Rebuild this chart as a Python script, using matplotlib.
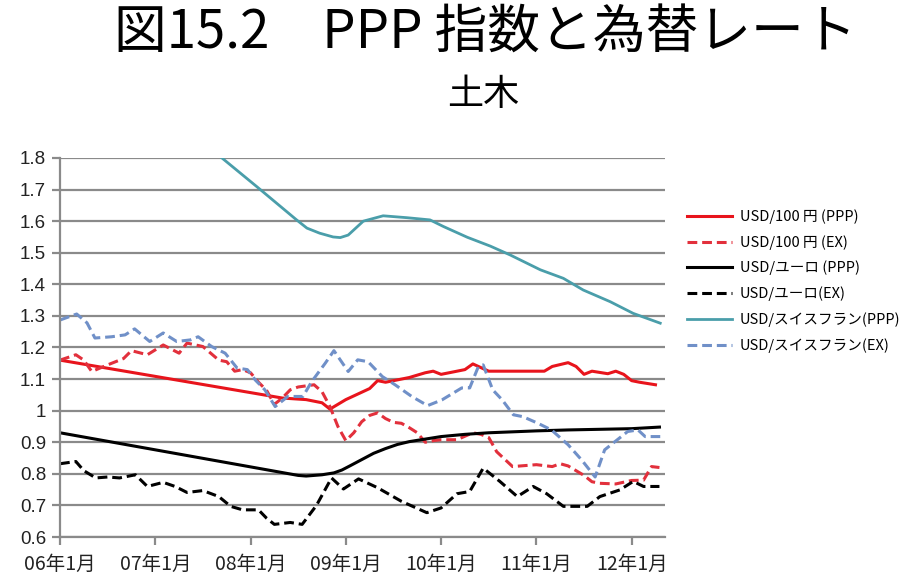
import matplotlib.pyplot as plt
from matplotlib.ticker import FixedLocator, FuncFormatter

plt.rcParams['font.family'] = ['Noto Sans CJK JP', 'DejaVu Sans']

# months counted from 2006-01
tick_months = [0, 12, 24, 36, 48, 60, 72]
tick_labels = ['06年1月', '07年1月', '08年1月', '09年1月', '10年1月', '11年1月', '12年1月']

jpy_ppp_m = [0, 28, 31, 33, 34, 36, 39, 40, 41, 42, 44, 46, 47, 48, 50, 51, 52, 54, 58, 61,
             62, 64, 65, 66, 67, 69, 70, 71, 72, 73, 75]
jpy_ppp_v = [1.16, 1.04, 1.035, 1.025, 1.005, 1.035, 1.07, 1.095, 1.09, 1.095, 1.105, 1.12, 1.125,
             1.115, 1.125, 1.13, 1.148, 1.125, 1.125, 1.125, 1.14, 1.152, 1.14, 1.115, 1.125,
             1.117, 1.125, 1.115, 1.095, 1.09, 1.082]

jpy_ex_m = [0, 2, 3, 4, 6, 8, 9, 11, 13, 15, 16, 18, 20, 21, 22, 23, 24, 25, 26, 27, 28, 29,
            30, 32, 33, 34, 35, 36, 37, 38, 39, 40, 41, 42, 43, 44, 45, 46, 47, 48, 50, 52, 53,
            54, 55, 57, 58, 60, 62, 63, 64, 65, 66, 67, 68, 70, 72, 73.5, 74.5, 75.5]
jpy_ex_v = [1.16, 1.177, 1.16, 1.124, 1.145, 1.165, 1.19, 1.177, 1.208, 1.182, 1.214, 1.203,
            1.16, 1.155, 1.125, 1.13, 1.12, 1.09, 1.065, 1.02, 1.04, 1.066, 1.075, 1.082, 1.06,
            1.013, 0.95, 0.905, 0.93, 0.965, 0.985, 0.993, 0.975, 0.963, 0.96, 0.946, 0.93, 0.9,
            0.905, 0.908, 0.908, 0.93, 0.925, 0.915, 0.87, 0.823, 0.825, 0.829, 0.823, 0.832,
            0.825, 0.81, 0.795, 0.775, 0.77, 0.768, 0.779, 0.78, 0.823, 0.82]

eur_ppp_m = [0, 30, 31, 33, 34.5, 35.5, 36.5, 38, 39.5, 41, 42.5, 44, 46, 48, 51, 54, 57, 60,
             64, 68, 72, 75.5]
eur_ppp_v = [0.93, 0.795, 0.793, 0.797, 0.803, 0.812, 0.825, 0.845, 0.865, 0.88, 0.893, 0.902,
             0.91, 0.918, 0.925, 0.93, 0.933, 0.936, 0.939, 0.941, 0.943, 0.948]

eur_ex_m = [0, 2, 3, 4.5, 6, 7.5, 9.5, 11, 13, 14.5, 16, 18, 20, 21.5, 23, 25, 26, 27, 29, 30.5,
            32.3, 34.2, 35.7, 37.6, 40, 43, 46.2, 48, 50, 51.6, 53.3, 55.4, 57.6, 59.6, 61.3,
            63.4, 66.4, 68, 70.5, 72.2, 73.5, 75.5]
eur_ex_v = [0.832, 0.839, 0.81, 0.787, 0.79, 0.787, 0.797, 0.76, 0.773, 0.76, 0.741, 0.747,
            0.728, 0.697, 0.686, 0.686, 0.66, 0.64, 0.646, 0.64, 0.70, 0.787, 0.752, 0.784, 0.756,
            0.713, 0.677, 0.692, 0.737, 0.744, 0.818, 0.776, 0.728, 0.76, 0.737, 0.697, 0.697,
            0.728, 0.749, 0.776, 0.76, 0.76]

chf_ppp_m = [0, 20.4, 24.8, 29.8, 31.1, 32.7, 34.4, 35.3, 36.3, 38.2, 40.7, 43.7, 46.6, 48.3,
             51.3, 54.2, 56.7, 60.5, 63.4, 65.9, 69.3, 72.2, 75.6]
chf_ppp_v = [2.22, 1.8, 1.709, 1.604, 1.578, 1.562, 1.55, 1.548, 1.556, 1.6, 1.617, 1.611, 1.604,
             1.583, 1.549, 1.521, 1.493, 1.446, 1.419, 1.382, 1.345, 1.308, 1.277]

chf_ex_m = [0, 2.1, 3.4, 4.4, 6.5, 8.2, 9.4, 11.3, 13, 14.7, 16.4, 17.4, 19.1, 20.8, 22.3, 23.6,
            24.6, 25.8, 27.1, 28.7, 30.6, 31.7, 33.4, 34.5, 36.3, 37.5, 38.8, 40.6, 42.2, 44.3,
            46.3, 48.1, 50.6, 51.6, 52.7, 53.3, 54.5, 55.7, 57.1, 58.3, 60.2, 61.9, 64, 65.7,
            67.4, 68.6, 69.9, 71.5, 72.8, 73.7, 75.6]
chf_ex_v = [1.287, 1.306, 1.278, 1.23, 1.234, 1.24, 1.259, 1.219, 1.246, 1.219, 1.224, 1.234,
            1.203, 1.182, 1.135, 1.13, 1.097, 1.066, 1.013, 1.045, 1.045, 1.092, 1.15, 1.19, 1.124,
            1.161, 1.155, 1.108, 1.082, 1.045, 1.016, 1.034, 1.072, 1.072, 1.14, 1.145, 1.066,
            1.034, 0.987, 0.981, 0.96, 0.939, 0.892, 0.844, 0.79, 0.876, 0.902, 0.934, 0.939,
            0.918, 0.918]

red = '#e8141c'
red_d = '#e2303c'
teal = '#4a9eaa'
blue_d = '#7090c8'

fig = plt.figure(figsize=(9.18, 5.79), dpi=100)
ax = fig.add_axes([60 / 918, 1 - 537 / 579, 605 / 918, 379 / 579])

dash = (3.2, 1.6)
ax.plot(jpy_ppp_m, jpy_ppp_v, color=red, lw=2.2, label='USD/100 円 (PPP)')
ax.plot(jpy_ex_m, jpy_ex_v, color=red_d, lw=2.2, dashes=dash, label='USD/100 円 (EX)')
ax.plot(eur_ppp_m, eur_ppp_v, color='black', lw=2.2, label='USD/ユーロ (PPP)')
ax.plot(eur_ex_m, eur_ex_v, color='black', lw=2.2, dashes=dash, label='USD/ユーロ(EX)')
ax.plot(chf_ppp_m, chf_ppp_v, color=teal, lw=2.0, label='USD/スイスフラン(PPP)')
ax.plot(chf_ex_m, chf_ex_v, color=blue_d, lw=2.2, dashes=dash, label='USD/スイスフラン(EX)')

ax.set_xlim(0, 76.2)
ax.set_ylim(0.6, 1.8)
ax.set_yticks([0.6 + 0.1 * i for i in range(13)])
ax.yaxis.set_major_formatter(FuncFormatter(lambda v, p: ('%.1f' % v).rstrip('0').rstrip('.')))
ax.xaxis.set_major_locator(FixedLocator(tick_months))
ax.set_xticklabels(tick_labels)
ax.grid(axis='y', color='#8a8a8a', lw=1.6)
ax.set_axisbelow(True)
for s in ['top', 'right']:
    ax.spines[s].set_visible(False)
for s in ['left', 'bottom']:
    ax.spines[s].set_color('#8a8a8a')
    ax.spines[s].set_linewidth(1.6)
ax.tick_params(axis='y', length=6, color='#8a8a8a', width=1.6, labelsize=13.5, pad=4,
               labelcolor='#222222')
ax.tick_params(axis='x', length=6, color='#8a8a8a', width=1.6, labelsize=14, pad=6,
               labelcolor='#222222')
for lab in ax.get_yticklabels():
    lab.set_family(['Liberation Sans', 'DejaVu Sans'])

fig.legend(loc='upper left', bbox_to_anchor=(674 / 918, 1 - 196 / 579), frameon=False,
           fontsize=10.5, handlelength=3.1, labelspacing=0.76, handletextpad=0.5)

fig.text(485 / 918, 1 - 33 / 579, '図15.2　PPP 指数と為替レート', fontsize=38,
         ha='center', va='center')
fig.text(483 / 918, 1 - 95 / 579, '土木', fontsize=26, ha='center', va='center')

fig.savefig('out.png', dpi=100)
